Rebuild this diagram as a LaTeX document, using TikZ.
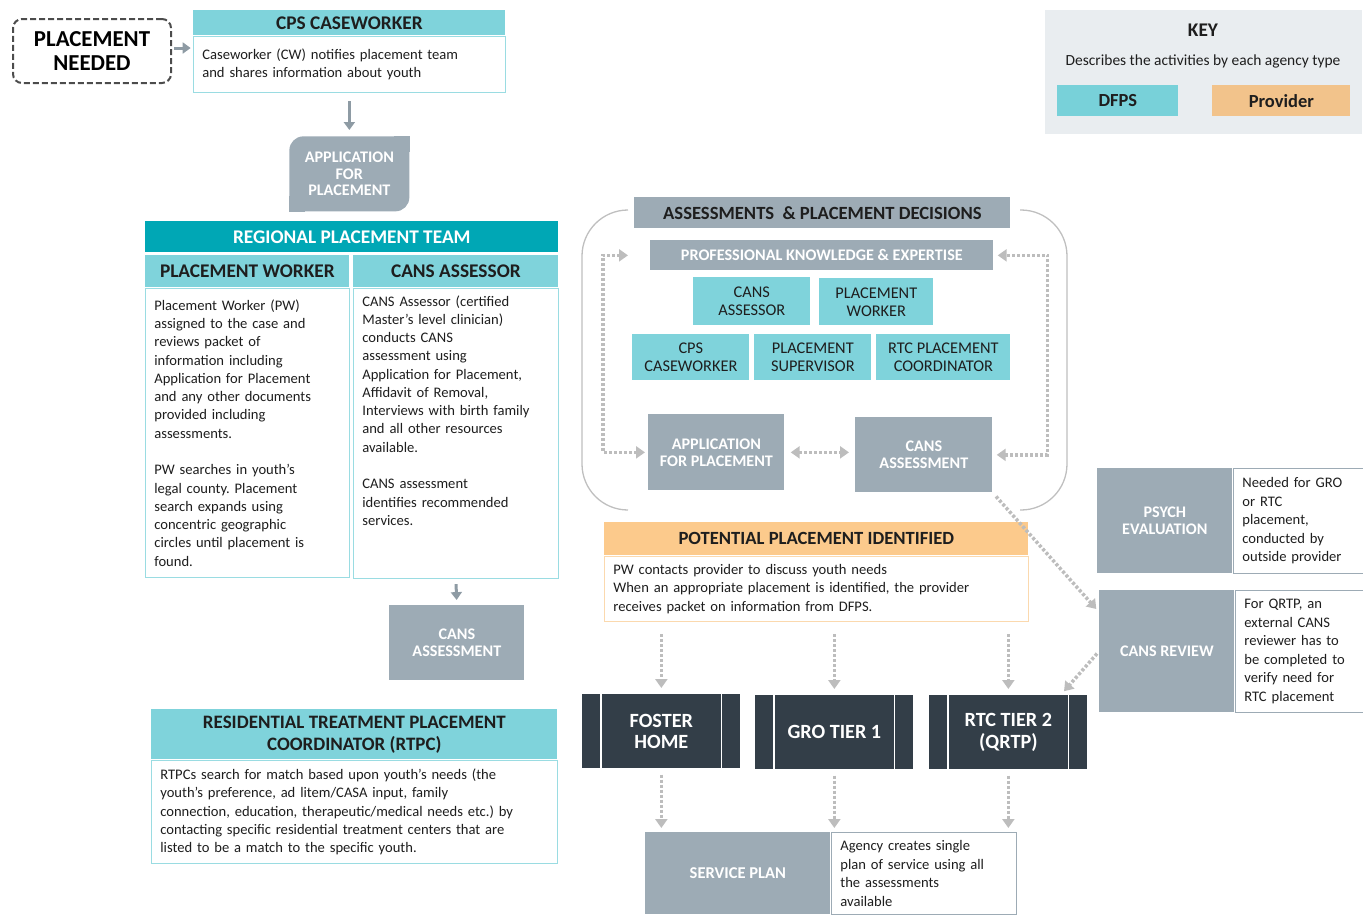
\documentclass[tikz,border=0pt]{standalone}
\usepackage{fontspec}
\setmainfont{Carlito}
\usetikzlibrary{arrows.meta,positioning}
\pgfdeclarelayer{bg}
\pgfsetlayers{bg,main}
\frenchspacing

\definecolor{tealhd}{HTML}{7FD3DB}
\definecolor{tealdk}{HTML}{00A7B5}
\definecolor{tealln}{HTML}{9ADCE2}
\definecolor{slate}{HTML}{9DABB5}
\definecolor{navy}{HTML}{333E48}
\definecolor{peach}{HTML}{FCCA8C}
\definecolor{peachln}{HTML}{FBD9AE}
\definecolor{keypeach}{HTML}{F2C38B}
\definecolor{keyteal}{HTML}{78D1D9}
\definecolor{keybg}{HTML}{E9EDF0}
\definecolor{arrgray}{HTML}{8E9BA4}
\definecolor{dotgray}{HTML}{BDBDBD}
\definecolor{ink}{HTML}{1E1E1E}

% one unit = one pixel of the layout
\newlength\pxu
\setlength\pxu{0.02cm}
\newcommand\fsz[2]{\fontsize{#1}{#2}\selectfont}

\tikzset{
  box/.style={anchor=north west, inner sep=0pt, align=center},
  tealbox/.style={box, fill=tealhd, text=ink, font=\fsz{9.3}{10.2}},
  hdr/.style={tealbox, font=\bfseries\fsz{11}{12.4}},
  slatebox/.style={box, fill=slate, text=white, font=\bfseries\fsz{9.2}{9.6}},
  bodybox/.style={anchor=north west, fill=white, draw=tealln, line width=1.4\pxu,
    inner xsep=9\pxu, inner ysep=3\pxu, align=left, text=ink, font=\fsz{8.3}{10.4}},
  sidebox/.style={bodybox, draw=slate, font=\fsz{8.3}{10.5}},
  provbox/.style={box, fill=navy, text=white, font=\bfseries\fsz{11.5}{12.4}},
  solidarr/.style={-{Triangle[length=4.5pt,width=6.2pt]}, draw=arrgray, line width=3\pxu},
  dotline/.style={draw=dotgray, line width=3.5\pxu, dash pattern=on 3\pxu off 2\pxu},
}

\begin{document}
\begin{tikzpicture}[x=0.02cm, y=-0.02cm, >={Triangle[length=5.1pt,width=6.8pt]}]
\useasboundingbox (0,0) rectangle (1363,914);

% start of the process
\node[box, draw=black!70, dashed, dash pattern=on 6\pxu off 3\pxu, line width=2\pxu, rounded corners=9\pxu,
  minimum width=158\pxu, minimum height=64\pxu, font=\bfseries\fsz{13}{14}, text=black] (need) at (12,18) {PLACEMENT\\NEEDED};
\node[hdr, minimum width=312\pxu, minimum height=25\pxu] (cpsh) at (193,10) {CPS CASEWORKER};
\node[bodybox, below=0pt of cpsh, minimum width=312\pxu, text width=294\pxu, minimum height=56\pxu] (cpsb)
  {Caseworker (CW) notifies placement team\\and shares information about youth\\[3pt]};
\node[slatebox, rounded corners=14\pxu, minimum width=120\pxu, minimum height=75\pxu] (app1) at (289,136) {APPLICATION\\FOR\\PLACEMENT};
\begin{pgfonlayer}{bg}
  \fill[slate] (app1.north east) rectangle ++(-16,16);
  \fill[slate] (app1.south west) rectangle ++(16,-16);
\end{pgfonlayer}

% regional placement team
\node[box, fill=tealdk, text=white, minimum width=413\pxu, minimum height=31\pxu, font=\bfseries\fsz{11}{12}] (rpt) at (145,221) {REGIONAL PLACEMENT TEAM};
\node[hdr, minimum width=204\pxu, minimum height=32\pxu] (pwh) at (145,255) {PLACEMENT WORKER};
\node[hdr, minimum width=205\pxu, minimum height=32\pxu] (cah) at (353,255) {CANS ASSESSOR};
\node[bodybox, below=0pt of pwh, minimum width=204\pxu, text width=186\pxu, minimum height=289\pxu] (pwb)
  {Placement Worker (PW)\\assigned to the case and\\reviews packet of\\information including\\Application for Placement\\and any other documents\\provided including\\assessments.\\[10.4pt]PW searches in youth’s\\legal county. Placement\\search expands using\\concentric geographic\\circles until placement is\\found.};
\node[bodybox, below=0pt of cah, minimum width=205\pxu, text width=187\pxu, minimum height=290\pxu] (cab)
  {\parbox[c][276\pxu][t]{187\pxu}{\raggedright CANS Assessor (certified\\Master’s level clinician)\\conducts CANS\\assessment using\\Application for Placement,\\Affidavit of Removal,\\Interviews with birth family\\and all other resources\\available.\\[10.4pt]CANS assessment\\identifies recommended\\services.}};
\node[slatebox, minimum width=135\pxu, minimum height=75\pxu] (ca1) at (389,605) {CANS\\ASSESSMENT};
\node[hdr, minimum width=406\pxu, minimum height=50\pxu, font=\bfseries\fsz{10.8}{12.4}] (rth) at (151,709) {RESIDENTIAL TREATMENT PLACEMENT\\COORDINATOR (RTPC)};
\node[bodybox, below=0pt of rth, minimum width=406\pxu, text width=388\pxu, minimum height=103\pxu] (rtb)
  {RTPCs search for match based upon youth’s needs (the\\youth’s preference, ad litem/CASA input, family\\connection, education, therapeutic/medical needs etc.) by\\contacting specific residential treatment centers that are\\listed to be a match to the specific youth.};

\draw[solidarr, shorten <=2\pxu, shorten >=2\pxu] ([yshift=3\pxu]need.east) -- ([yshift=3\pxu]need.east -| cpsb.west);
\draw[solidarr, shorten <=8\pxu, shorten >=6\pxu] (cpsb.south) -- (app1.north);
\draw[solidarr, shorten <=5\pxu, shorten >=5\pxu] (cab.south) -- (ca1.north);

% assessments and placement decisions
\draw[draw=black!25, line width=1.3\pxu, rounded corners=46\pxu] (628,210) -- (582,210) -- (582,510) -- (628,510);
\draw[draw=black!25, line width=1.3\pxu, rounded corners=46\pxu] (1020,210) -- (1067,210) -- (1067,510) -- (1020,510);
\node[box, fill=slate, text=ink, minimum width=376\pxu, minimum height=31\pxu, font=\bfseries\fsz{10.6}{11}] (aph) at (634,197) {ASSESSMENTS~ \& PLACEMENT DECISIONS};
\node[slatebox, minimum width=343\pxu, minimum height=30\pxu] (pke) at (650,240) {PROFESSIONAL KNOWLEDGE \& EXPERTISE};
\node[tealbox, minimum width=117\pxu, minimum height=48\pxu] (cas) at (693,277) {CANS\\ASSESSOR};
\node[tealbox, minimum width=114\pxu, minimum height=47\pxu] (pw2) at (819,278) {PLACEMENT\\WORKER};
\node[tealbox, minimum width=117\pxu, minimum height=46\pxu] (cps2) at (632,334) {CPS\\CASEWORKER};
\node[tealbox, minimum width=117\pxu, minimum height=46\pxu] (ps) at (754,334) {PLACEMENT\\SUPERVISOR};
\node[tealbox, minimum width=134\pxu, minimum height=46\pxu] (rtcc) at (876,334) {RTC PLACEMENT\\COORDINATOR};
\node[slatebox, minimum width=136\pxu, minimum height=76\pxu] (app2) at (648,414) {APPLICATION\\FOR PLACEMENT};
\node[slatebox, minimum width=137\pxu, minimum height=75\pxu] (ca2) at (855,417) {CANS\\ASSESSMENT};

\draw[dotline, <->, shorten <=3\pxu, shorten >=22\pxu] (app2.west) -- ++(-45,0) |- (pke.west);
\draw[dotline, <->, shorten <=4\pxu, shorten >=4\pxu] (ca2.east) -- ++(55,0) |- (pke.east);
\draw[dotline, <->, shorten <=6\pxu, shorten >=6\pxu] (app2.east) -- (app2.east -| ca2.west);

% potential placement and providers
\node[box, fill=peach, text=ink, minimum width=424\pxu, minimum height=33\pxu, font=\bfseries\fsz{10.6}{12}] (pph) at (604,522) {POTENTIAL PLACEMENT IDENTIFIED};
\node[bodybox, draw=peachln, below=0pt of pph, minimum width=424\pxu, text width=406\pxu, minimum height=65\pxu] (ppb)
  {PW contacts provider to discuss youth needs\\When an appropriate placement is identified, the provider\\receives packet on information from DFPS.};
\node[provbox, minimum width=158\pxu, minimum height=74\pxu] (fh) at (582,694) {FOSTER\\HOME};
\node[provbox, minimum width=158\pxu, minimum height=74\pxu] (gro) at (755,695) {GRO TIER 1};
\node[provbox, minimum width=158\pxu, minimum height=74\pxu] (rtc) at (929,695) {RTC TIER 2\\(QRTP)};
\node[slatebox, minimum width=185\pxu, minimum height=82\pxu, font=\bfseries\fsz{9.4}{10}] (sp) at (645,832) {SERVICE PLAN};
\node[sidebox, right=0pt of sp, minimum width=185\pxu, text width=167\pxu, minimum height=82\pxu] (spt)
  {Agency creates single\\plan of service using all\\the assessments\\available};

\foreach \n in {fh,gro,rtc}{
  \draw[white, line width=1.5\pxu] ([xshift=19\pxu]\n.north west) -- ([xshift=19\pxu]\n.south west);
  \draw[white, line width=1.5\pxu] ([xshift=-19\pxu]\n.north east) -- ([xshift=-19\pxu]\n.south east);
  \draw[dotline, ->, shorten <=12\pxu, shorten >=6\pxu] (\n.north |- ppb.south) -- (\n.north);
  \draw[dotline, ->, shorten <=6\pxu, shorten >=4\pxu] (\n.south) -- (\n.south |- sp.north);
}

% outside evaluations
\node[slatebox, minimum width=135\pxu, minimum height=105\pxu] (pe) at (1097,468) {PSYCH\\EVALUATION};
\node[sidebox, right=0pt of pe, minimum width=130\pxu, text width=112\pxu, minimum height=105\pxu] (pet)
  {Needed for GRO\\or RTC\\placement,\\conducted by\\outside provider};
\node[slatebox, minimum width=135\pxu, minimum height=122\pxu] (cr) at (1099,590) {CANS REVIEW};
\node[sidebox, right=0pt of cr, minimum width=128\pxu, text width=110\pxu, minimum height=122\pxu] (crt)
  {For QRTP, an\\external CANS\\reviewer has to\\be completed to\\verify need for\\RTC placement};

\draw[dotline, ->, shorten <=5\pxu, shorten >=4\pxu] (ca2.south east) -- ([yshift=-22\pxu]cr.north west);
\draw[dotline, ->, shorten <=3\pxu, shorten >=5\pxu] (cr.west) -- ([xshift=-27\pxu]rtc.north east);

% key
\node[box, fill=keybg, minimum width=317\pxu, minimum height=124\pxu] (key) at (1045,10) {};
\node[text=ink, font=\bfseries\fsz{11}{12}] (keyt) at (1203,30) {KEY};
\node[text=ink, font=\fsz{8.8}{10}] (keyd) at (1203,61) {Describes the activities by each agency type};
\node[box, fill=keyteal, text=ink, minimum width=121\pxu, minimum height=31\pxu, font=\bfseries\fsz{10.5}{12}] (dfps) at (1057,85) {DFPS};
\node[box, fill=keypeach, text=ink, minimum width=138\pxu, minimum height=31\pxu, font=\bfseries\fsz{10.5}{12}] (prov) at (1212,85) {Provider};
\end{tikzpicture}
\end{document}
